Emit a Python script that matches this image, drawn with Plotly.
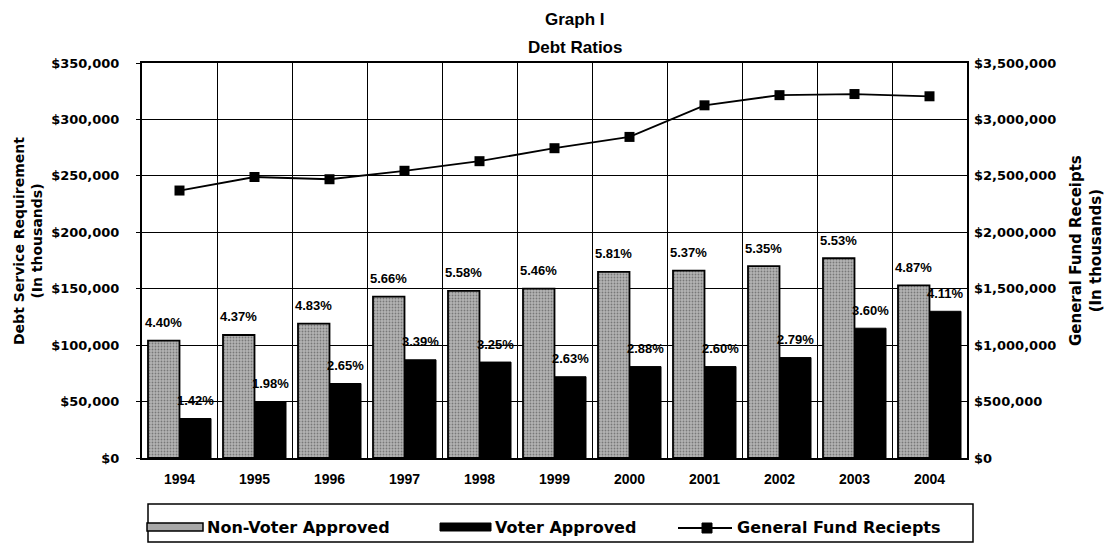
import plotly.graph_objects as go

years = ["1994", "1995", "1996", "1997", "1998", "1999", "2000", "2001", "2002", "2003", "2004"]
non_voter = [104000, 109000, 119000, 143000, 148000, 150000, 165000, 166000, 170000, 177000, 153000]
voter = [35000, 50000, 66000, 87000, 85000, 72000, 81000, 81000, 89000, 115000, 130000]
general_fund = [2370000, 2490000, 2470000, 2545000, 2630000, 2745000, 2845000, 3125000, 3215000, 3225000, 3205000]
non_voter_pct = ["4.40%", "4.37%", "4.83%", "5.66%", "5.58%", "5.46%", "5.81%", "5.37%", "5.35%", "5.53%", "4.87%"]
voter_pct = ["1.42%", "1.98%", "2.65%", "3.39%", "3.25%", "2.63%", "2.88%", "2.60%", "2.79%", "3.60%", "4.11%"]

W, H = 1112, 552
ML, MR, MT, MB = 142, 145, 63, 94
PW, PH = W - ML - MR, H - MT - MB


def px(x):
    return (x - ML) / PW


def py(y):
    return (H - MB - y) / PH


ARIAL = "Liberation Sans, Arial, sans-serif"
HEAVY = "DejaVu Sans, sans-serif"

fig = go.Figure()
fig.add_trace(go.Bar(
    x=years, y=non_voter, name="Non-Voter Approved",
    marker=dict(
        color="#a8a8a8",
        pattern=dict(shape=".", fgcolor="#3c3c3c", bgcolor="#b4b4b4", size=3, solidity=0.3),
        line=dict(color="black", width=1.8),
    ),
    showlegend=False,
))
fig.add_trace(go.Bar(
    x=years, y=voter, name="Voter Approved",
    marker=dict(color="black", line=dict(color="black", width=1)),
    showlegend=False,
))
fig.add_trace(go.Scatter(
    x=years, y=general_fund, name="General Fund Reciepts", yaxis="y2",
    mode="lines+markers",
    line=dict(color="black", width=1.8),
    marker=dict(symbol="square", size=10, color="black"),
    showlegend=False,
))

annotations = []
bar_half = 0.42 * PW / len(years) / 2
lab_font = dict(family=ARIAL, size=13, color="black", weight="bold")
for i, (v, t) in enumerate(zip(non_voter, non_voter_pct)):
    annotations.append(dict(x=i, y=v, xref="x", yref="y", text=t, showarrow=False,
                            xshift=-bar_half, yshift=18, xanchor="center", yanchor="middle",
                            font=lab_font))
for i, (v, t) in enumerate(zip(voter, voter_pct)):
    annotations.append(dict(x=i, y=v, xref="x", yref="y", text=t, showarrow=False,
                            xshift=bar_half, yshift=18, xanchor="center", yanchor="middle",
                            font=lab_font))


def paper_text(x, y, text, font, **kw):
    d = dict(x=px(x), y=py(y), xref="paper", yref="paper", text=text, showarrow=False,
             xanchor="center", yanchor="middle", font=font)
    d.update(kw)
    return d


annotations.append(paper_text(575, 19, "Graph I", dict(family=ARIAL, size=17, color="black", weight="bold")))
annotations.append(paper_text(575, 47, "Debt Ratios", dict(family=ARIAL, size=17, color="black", weight="bold")))

annotations.append(paper_text(28, 241, "Debt Service Requirement<br>(In thousands)",
                              dict(family=HEAVY, size=14, color="black", weight="bold"), textangle=-90))
annotations.append(paper_text(1086, 251, "General Fund Receipts<br>(In thousands)",
                              dict(family=HEAVY, size=15, color="black", weight="bold"), textangle=-90))

leg_font = dict(family=HEAVY, size=16, color="black", weight="bold")
annotations.append(paper_text(205, 527, "Non-Voter Approved", leg_font, xanchor="left"))
annotations.append(paper_text(493, 527, "Voter Approved", leg_font, xanchor="left"))
annotations.append(paper_text(735, 527, "General Fund Reciepts", leg_font, xanchor="left"))

shapes = [
    dict(type="rect", xref="paper", yref="paper", x0=px(148), x1=px(973), y0=py(504), y1=py(542),
         line=dict(color="black", width=1.5), fillcolor="rgba(0,0,0,0)"),
    dict(type="rect", xref="paper", yref="paper", x0=px(147), x1=px(203), y0=py(523), y1=py(531),
         line=dict(color="black", width=1.5), fillcolor="#a8a8a8"),
    dict(type="rect", xref="paper", yref="paper", x0=px(440), x1=px(491), y0=py(523), y1=py(531),
         line=dict(color="black", width=1), fillcolor="black"),
    dict(type="line", xref="paper", yref="paper", x0=px(678), x1=px(732), y0=py(528), y1=py(528),
         line=dict(color="black", width=2)),
    dict(type="rect", xref="paper", yref="paper", x0=px(702), x1=px(712), y0=py(523), y1=py(533),
         line=dict(color="black", width=1), fillcolor="black"),
]

fig.update_layout(
    width=W, height=H,
    margin=dict(l=ML, r=MR, t=MT, b=MB),
    paper_bgcolor="white", plot_bgcolor="white",
    barmode="group", bargap=0.16, bargroupgap=0,
    annotations=annotations, shapes=shapes,
    xaxis=dict(type="category", range=[-0.5, len(years) - 0.5], tickson="boundaries",
               showgrid=True, gridcolor="black", gridwidth=1,
               ticks="", showline=True, mirror=True, linecolor="black", linewidth=2,
               tickangle=0,
               tickfont=dict(family=ARIAL, size=14, color="black", weight="bold"),
               ticklabelstandoff=7),
    yaxis=dict(range=[0, 350000], dtick=50000, tickformat="$,.0f", showgrid=True, gridcolor="black",
               gridwidth=1, zeroline=False, showline=True, mirror=True, linecolor="black", linewidth=2,
               ticks="outside", ticklen=4, tickcolor="black",
               tickfont=dict(family=HEAVY, size=13, color="black", weight="bold"),
               ticklabelstandoff=14),
    yaxis2=dict(range=[0, 3500000], dtick=500000, tickformat="$,.0f", overlaying="y", side="right",
                showgrid=False, zeroline=False, ticks="inside", ticklen=4, tickcolor="black",
                tickfont=dict(family=HEAVY, size=13, color="black", weight="bold"),
                ticklabelstandoff=6),
)

fig.write_html("out.html")
